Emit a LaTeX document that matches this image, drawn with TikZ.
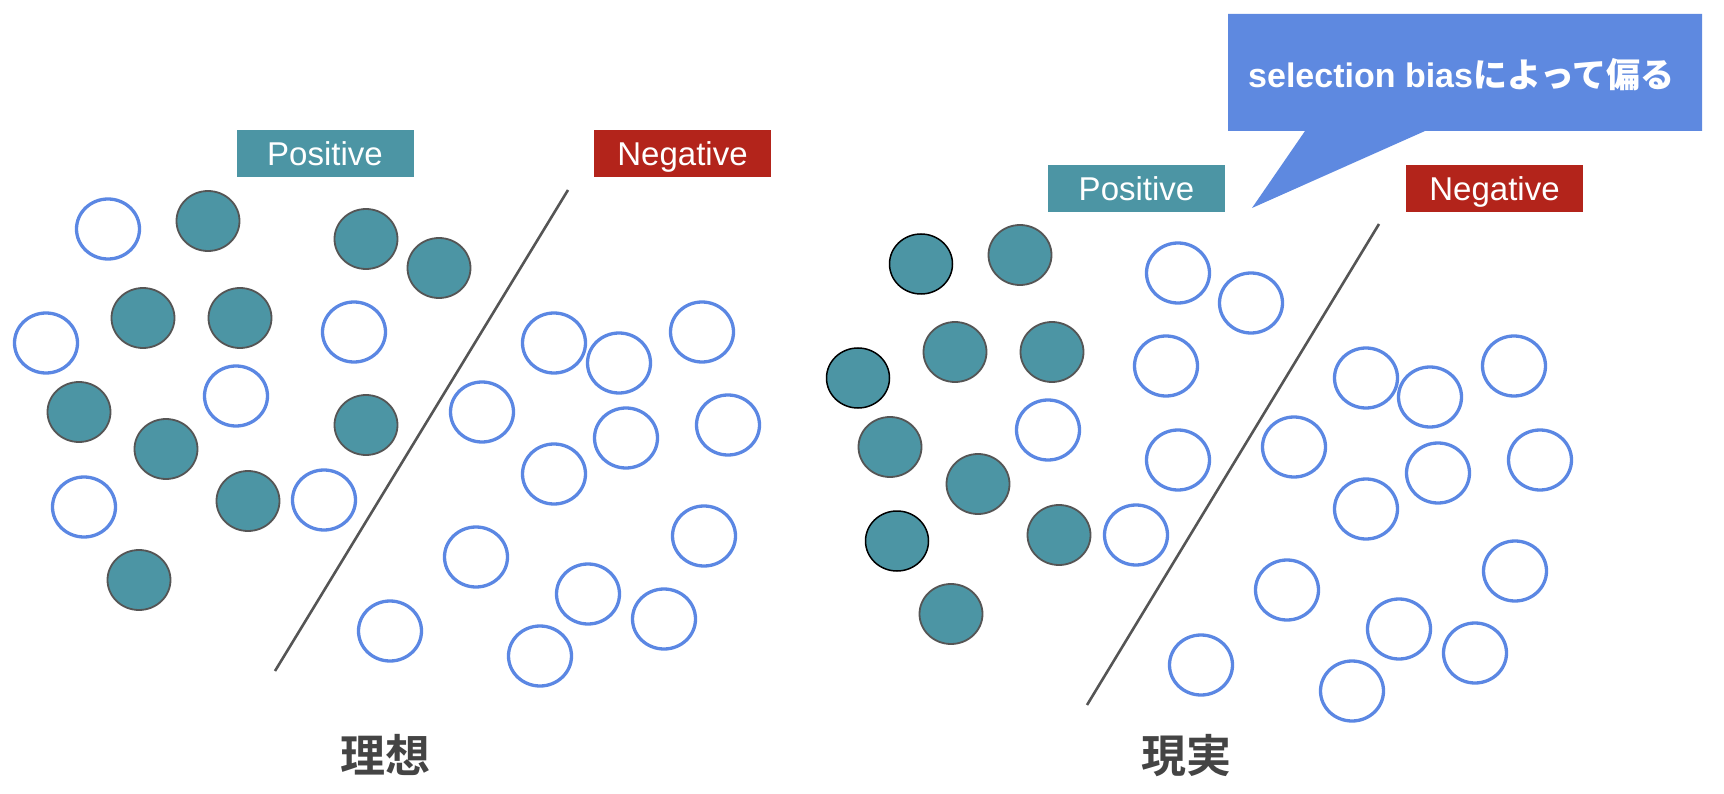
\documentclass[tikz,border=0pt]{standalone}
\usepackage{fontspec}
\setmainfont{Liberation Sans}
\newfontfamily\cjkb{Noto Sans CJK JP Bold}
\usetikzlibrary{shapes.geometric}
\definecolor{teal1}{HTML}{4C95A4}
\definecolor{red1}{HTML}{B3241B}
\definecolor{ring}{HTML}{5B87E3}
\definecolor{callout}{HTML}{5E89E0}
\definecolor{darktext}{HTML}{444444}
\definecolor{linegray}{HTML}{555555}
\tikzset{
  posdot/.style={ellipse, minimum width=63pt, minimum height=60pt, inner sep=0pt, fill=teal1, draw=linegray, line width=1.8pt},
  posdotb/.style={posdot, draw=black, line width=1.5pt},
  negdot/.style={ellipse, minimum width=63pt, minimum height=60pt, inner sep=0pt, draw=ring, line width=3.3pt},
  tagbox/.style={minimum width=177pt, minimum height=47pt, inner sep=0pt, text=white,
    font=\fontsize{33}{38}\selectfont, text height=23.6pt, text depth=0pt},
  postag/.style={tagbox, fill=teal1},
  negtag/.style={tagbox, fill=red1},
  titletext/.style={text=darktext, font=\fontsize{45}{50}\selectfont\cjkb, inner sep=0pt, text height=0.83em, text depth=0.07em},
  divider/.style={draw=linegray, line width=2.6pt}
}
\begin{document}
\begin{tikzpicture}[x=1pt, y=-1pt]
\useasboundingbox (0,0) rectangle (1724,794);
% ---------- left panel ----------
\node[postag] (lpos) at (325,154) {Positive};
\node[negtag] (lneg) at (682.5,154) {Negative};
\coordinate (l1) at (568,190);
\coordinate (l2) at (275,671);
\draw[divider] (l1) -- (l2);
% filled
\node[posdot] (lp1) at (208,221) {};
\node[posdot] (lp2) at (143,318) {};
\node[posdot] (lp3) at (240,318) {};
\node[posdot] (lp4) at (366,239) {};
\node[posdot] (lp5) at (439,268) {};
\node[posdot] (lp6) at (79,412) {};
\node[posdot] (lp7) at (166,449) {};
\node[posdot] (lp8) at (366,425) {};
\node[posdot] (lp9) at (248,501) {};
\node[posdot] (lp10) at (139,580) {};
% empty
\node[negdot] (ln1) at (108,229) {};
\node[negdot] (ln2) at (46,343) {};
\node[negdot] (ln3) at (236,396) {};
\node[negdot] (ln4) at (354,332) {};
\node[negdot] (ln5) at (84,507) {};
\node[negdot] (ln6) at (324,500) {};
\node[negdot] (ln7) at (482,412) {};
\node[negdot] (ln8) at (554,343) {};
\node[negdot] (ln9) at (619,363) {};
\node[negdot] (ln10) at (702,332) {};
\node[negdot] (ln11) at (554,474) {};
\node[negdot] (ln12) at (626,438) {};
\node[negdot] (ln13) at (728,425) {};
\node[negdot] (ln14) at (476,557) {};
\node[negdot] (ln15) at (704,536) {};
\node[negdot] (ln16) at (588,594) {};
\node[negdot] (ln17) at (664,619) {};
\node[negdot] (ln18) at (390,631) {};
\node[negdot] (ln19) at (540,656) {};
\node[titletext] (lt) at (385,769) {理想};
% ---------- right panel ----------
\node[postag] (rpos) at (1136.5,188.5) {Positive};
\node[negtag] (rneg) at (1494.5,188.5) {Negative};
\coordinate (r1) at (1379,224);
\coordinate (r2) at (1087,705);
\draw[divider] (r1) -- (r2);
% filled
\node[posdotb] (rp1) at (921,264) {};
\node[posdot] (rp2) at (1020,255) {};
\node[posdot] (rp3) at (955,352) {};
\node[posdot] (rp4) at (1052,352) {};
\node[posdotb] (rp5) at (858,378) {};
\node[posdot] (rp6) at (890,447) {};
\node[posdot] (rp7) at (978,484) {};
\node[posdotb] (rp8) at (897,541) {};
\node[posdot] (rp9) at (1059,535) {};
\node[posdot] (rp10) at (951,614) {};
% empty
\node[negdot] (rn1) at (1178,273) {};
\node[negdot] (rn2) at (1251,303) {};
\node[negdot] (rn3) at (1166,366) {};
\node[negdot] (rn4) at (1048,430) {};
\node[negdot] (rn5) at (1178,460) {};
\node[negdot] (rn6) at (1136,535) {};
\node[negdot] (rn7) at (1294,447) {};
\node[negdot] (rn8) at (1366,378) {};
\node[negdot] (rn9) at (1430,397) {};
\node[negdot] (rn10) at (1514,366) {};
\node[negdot] (rn11) at (1366,509) {};
\node[negdot] (rn12) at (1438,473) {};
\node[negdot] (rn13) at (1540,460) {};
\node[negdot] (rn14) at (1287,590) {};
\node[negdot] (rn15) at (1515,571) {};
\node[negdot] (rn16) at (1399,629) {};
\node[negdot] (rn17) at (1475,653) {};
\node[negdot] (rn18) at (1201,665) {};
\node[negdot] (rn19) at (1352,691) {};
\node[titletext] (rt) at (1186,769) {現実};
% ---------- callout ----------
\fill[callout] (1228,14) -- (1702,14) -- (1702,131) -- (1425,131) -- (1252,208) -- (1305,131) -- (1228,131) -- cycle;
\node[anchor=base west, inner sep=0pt, text=white, font=\fontsize{34}{40}\selectfont\bfseries] (cap) at (1248,88) {selection bias{\cjkb によって偏る}};
\end{tikzpicture}
\end{document}
